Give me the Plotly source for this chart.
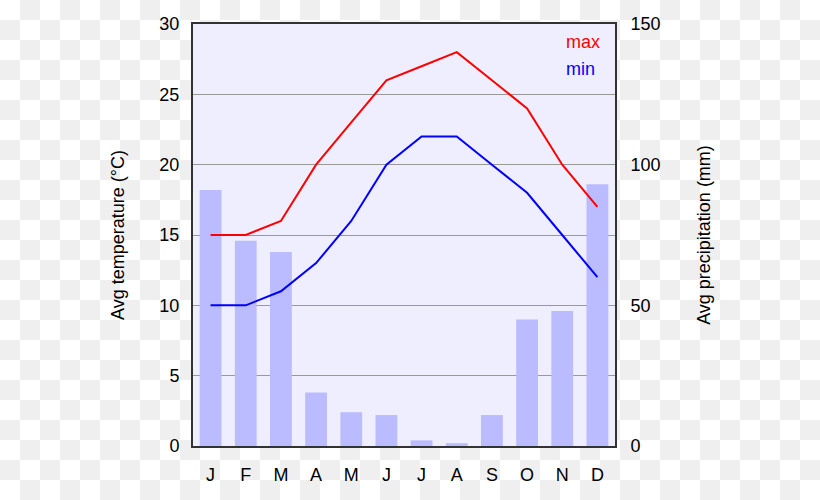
import plotly.graph_objects as go

months = ["J", "F", "M", "A", "M", "J", "J", "A", "S", "O", "N", "D"]
month_keys = [f"m{i}" for i in range(12)]
temp_max = [15, 15, 16, 20, 23, 26, 27, 28, 26, 24, 20, 17]
temp_min = [10, 10, 11, 13, 16, 20, 22, 22, 20, 18, 15, 12]
precip = [91, 73, 69, 19, 12, 11, 2, 1, 11, 45, 48, 93]

W, H = 820, 500
L, R, T, B = 193, 205, 24, 54
PW, PH = W - L - R, H - T - B
CELL = 20

FONT = "Liberation Sans, Arial, sans-serif"


def px2paper_x(px):
    return (px - L) / PW


def px2paper_y(py):
    return (H - B - py) / PH


# transparency checkerboard of the page background (decoration, not data)
shapes = []
for j in range(H // CELL + 1):
    for i in range(W // CELL + 1):
        if (i + j) % 2 == 1:
            shapes.append(dict(
                type="rect", xref="paper", yref="paper",
                x0=px2paper_x(i * CELL), x1=px2paper_x((i + 1) * CELL),
                y0=px2paper_y((j + 1) * CELL), y1=px2paper_y(j * CELL),
                fillcolor="#efefef", line=dict(width=0), layer="below",
            ))
shapes.append(dict(type="rect", xref="paper", yref="paper", x0=0, y0=0, x1=1, y1=1,
                   fillcolor="#eeeeff", line=dict(width=0), layer="below"))

fig = go.Figure()
fig.add_trace(go.Bar(x=month_keys, y=precip, marker=dict(color="#bbbbff", line=dict(width=0)),
                     width=0.62, yaxis="y", showlegend=False, hoverinfo="skip"))
fig.add_trace(go.Scatter(x=month_keys, y=temp_max, mode="lines", line=dict(color="#ff0000", width=2),
                         yaxis="y2", showlegend=False))
fig.add_trace(go.Scatter(x=month_keys, y=temp_min, mode="lines", line=dict(color="#0000ff", width=2),
                         yaxis="y2", showlegend=False))

fig.update_layout(
    width=W, height=H,
    margin=dict(l=L, r=R, t=T, b=B, pad=0),
    paper_bgcolor="rgba(0,0,0,0)",
    plot_bgcolor="rgba(0,0,0,0)",
    font=dict(family=FONT, size=18, color="#000000"),
    xaxis=dict(
        type="category", tickmode="array", tickvals=month_keys, ticktext=months,
        range=[-0.5, 11.5], showgrid=False, zeroline=False,
        showline=True, mirror=True, linecolor="#333333", linewidth=2,
        ticks="outside", ticklen=11, tickcolor="rgba(0,0,0,0)",
        tickfont=dict(size=18),
    ),
    yaxis=dict(
        side="right", range=[0, 150], tickmode="array", tickvals=[0, 50, 100, 150],
        showgrid=False, zeroline=False,
        showline=True, mirror=True, linecolor="#333333", linewidth=2,
        ticks="outside", ticklen=10, tickcolor="rgba(0,0,0,0)",
        tickfont=dict(size=18),
        title=dict(text="Avg precipitation (mm)", font=dict(size=18), standoff=38),
    ),
    yaxis2=dict(
        overlaying="y", side="left", range=[0, 30], tickmode="array",
        tickvals=[0, 5, 10, 15, 20, 25, 30],
        showgrid=True, gridcolor="#999999", gridwidth=1, zeroline=False,
        showline=True, mirror=True, linecolor="#333333", linewidth=2,
        ticks="outside", ticklen=8, tickcolor="rgba(0,0,0,0)",
        tickfont=dict(size=18),
        title=dict(text="Avg temperature (°C)", font=dict(size=18), standoff=30),
    ),
    shapes=shapes,
    annotations=[
        dict(text="max", xref="paper", yref="paper", x=px2paper_x(564), y=px2paper_y(42),
             xanchor="left", yanchor="middle", showarrow=False,
             font=dict(color="#ff0000", size=18, family=FONT)),
        dict(text="min", xref="paper", yref="paper", x=px2paper_x(564), y=px2paper_y(69),
             xanchor="left", yanchor="middle", showarrow=False,
             font=dict(color="#0000ff", size=18, family=FONT)),
    ],
)

fig.write_html("out.html")
